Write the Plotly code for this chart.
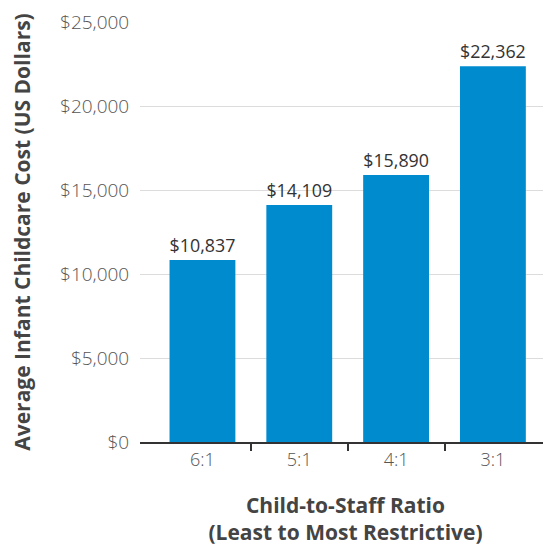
import plotly.graph_objects as go

categories = ["6:1", "5:1", "4:1", "3:1"]
costs = [10837, 14109, 15890, 22362]
y_ticks = [0, 5000, 10000, 15000, 20000, 25000]
y_tick_labels = ["$0", "$5,000", "$10,000", "$15,000", "$20,000", "$25,000"]

x_pos = list(range(len(categories)))
boundaries = [i + 0.5 for i in x_pos[:-1]]

fig = go.Figure(go.Bar(
    x=x_pos, y=costs,
    marker=dict(color="#008BCF", line=dict(width=0)),
    width=0.68,
    text=[f"${v:,}" for v in costs],
    textposition="outside",
    textfont=dict(family="Open Sans", size=20, color="#333333"),
    cliponaxis=False,
))

fig.update_layout(
    width=543, height=538,
    margin=dict(l=132, r=0, t=14, b=104),
    plot_bgcolor="white", paper_bgcolor="white",
    showlegend=False,
    font=dict(family="Open Sans", color="#444444"),
    xaxis=dict(
        range=[-0.645, 3.6],
        tickvals=x_pos, ticktext=categories,
        ticks="", showgrid=False,
        showline=True, linecolor="#333333", linewidth=2,
        tickfont=dict(size=18, color="#555555", weight=300),
        minor=dict(tickvals=boundaries, ticks="outside", ticklen=7,
                   tickcolor="#333333", tickwidth=2, showgrid=False),
        title=dict(text="<b>Child-to-Staff Ratio<br>(Least to Most Restrictive)</b>",
                   font=dict(size=21, color="#444444"), standoff=30),
        automargin=False,
    ),
    yaxis=dict(
        range=[0, 25000],
        tickvals=y_ticks, ticktext=y_tick_labels,
        showgrid=True, gridcolor="#dcdcdc", gridwidth=1,
        zeroline=False, showline=False,
        ticks="outside", ticklen=6, tickcolor="rgba(0,0,0,0)",
        tickfont=dict(size=19, color="#555555", weight=300),
        title=dict(text="<b>Average Infant Childcare Cost (US Dollars)</b>",
                   font=dict(size=21, color="#444444"), standoff=23),
        automargin=False,
    ),
)

fig.write_html("out.html")
